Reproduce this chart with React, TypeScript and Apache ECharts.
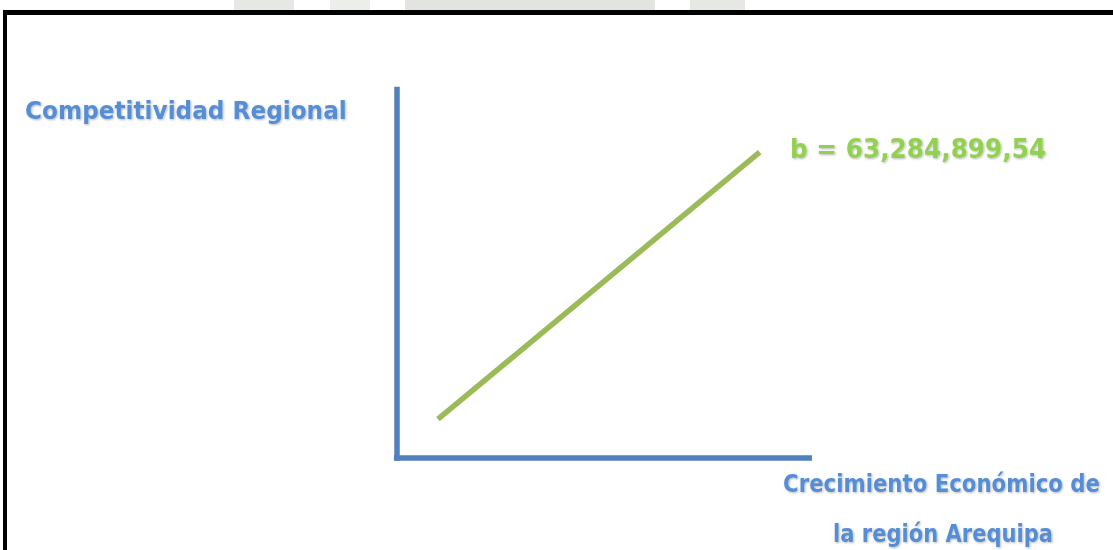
import React, { useEffect, useRef } from "react";
import * as echarts from "echarts";

// Data (schematic regression line, normalized 0–100 on both axes)
const lineX: number[] = [10, 88];
const lineY: number[] = [10.5, 83];
const yAxisTitle = "Competitividad Regional";
const xAxisTitleLines: string[] = ["Crecimiento Económico de", "la región Arequipa"];
const slopeLabel = "b = 63,284,899,54";

const BLUE_TEXT = "#558ED5";
const AXIS_BLUE = "#4F81BD";
const GREEN_TEXT = "#92D050";
const LINE_GREEN = "#9BBB59";
const FONT = "'DejaVu Sans', Verdana, sans-serif";

const shadow = {
  textShadowColor: "rgba(0,0,0,0.28)",
  textShadowBlur: 2,
  textShadowOffsetX: 1,
  textShadowOffsetY: 1,
};

export default function App() {
  const ref = useRef<HTMLDivElement>(null);
  useEffect(() => {
    if (!ref.current) return;
    const chart = echarts.init(ref.current, null, { renderer: "svg" });
    const data = lineX.map((x, i) => [x, lineY[i]]);
    chart.setOption({
      animation: false,
      backgroundColor: "#ffffff",
      grid: { left: 396.7, top: 89.5, right: 303.8, bottom: 92.1, containLabel: false },
      xAxis: {
        type: "value",
        min: 0,
        max: 100,
        axisLine: { show: true, onZero: false, lineStyle: { color: AXIS_BLUE, width: 5.5, cap: "square" } },
        axisTick: { show: false },
        axisLabel: { show: false },
        splitLine: { show: false },
      },
      yAxis: {
        type: "value",
        min: 0,
        max: 100,
        axisLine: { show: true, onZero: false, lineStyle: { color: AXIS_BLUE, width: 5.5, cap: "square" } },
        axisTick: { show: false },
        axisLabel: { show: false },
        splitLine: { show: false },
      },
      series: [
        {
          type: "line",
          data,
          showSymbol: false,
          symbol: "none",
          lineStyle: { color: LINE_GREEN, width: 5.5, cap: "butt" },
          silent: true,
        },
      ],
      graphic: [
        // faint watermark remnants at top
        { type: "rect", shape: { x: 234, y: 0, width: 60, height: 10 }, style: { fill: "#e6e9e3" }, silent: true },
        { type: "rect", shape: { x: 330, y: 0, width: 40, height: 10 }, style: { fill: "#eceee9" }, silent: true },
        { type: "rect", shape: { x: 405, y: 0, width: 250, height: 10 }, style: { fill: "#e2e5df" }, silent: true },
        { type: "rect", shape: { x: 690, y: 0, width: 55, height: 10 }, style: { fill: "#e6e9e3" }, silent: true },
        // black frame
        { type: "line", shape: { x1: 3, y1: 12.5, x2: 1113, y2: 12.5 }, style: { stroke: "#000", lineWidth: 5 }, silent: true },
        { type: "line", shape: { x1: 5, y1: 10, x2: 5, y2: 550 }, style: { stroke: "#000", lineWidth: 4 }, silent: true },
        {
          type: "text",
          x: 25,
          y: 110.5,
          scaleX: 0.967,
          style: {
            text: yAxisTitle,
            fill: BLUE_TEXT,
            font: `bold 24px ${FONT}`,
            align: "left",
            verticalAlign: "middle",
            ...shadow,
          },
        },
        {
          type: "text",
          x: 790,
          y: 149,
          scaleX: 0.953,
          style: {
            text: slopeLabel,
            fill: GREEN_TEXT,
            font: `bold 26px ${FONT}`,
            align: "left",
            verticalAlign: "middle",
            ...shadow,
          },
        },
        {
          type: "text",
          x: 941.5,
          y: 484,
          scaleX: 0.887,
          style: {
            text: xAxisTitleLines[0],
            fill: BLUE_TEXT,
            font: `bold 24px ${FONT}`,
            align: "center",
            verticalAlign: "middle",
            ...shadow,
          },
        },
        {
          type: "text",
          x: 943,
          y: 533,
          scaleX: 0.877,
          style: {
            text: xAxisTitleLines[1],
            fill: BLUE_TEXT,
            font: `bold 24px ${FONT}`,
            align: "center",
            verticalAlign: "middle",
            ...shadow,
          },
        },
      ],
    });
    return () => chart.dispose();
  }, []);
  return (
    <div
      ref={ref}
      style={{ position: "absolute", left: 0, top: 0, width: 1113, height: 550 }}
    />
  );
}
